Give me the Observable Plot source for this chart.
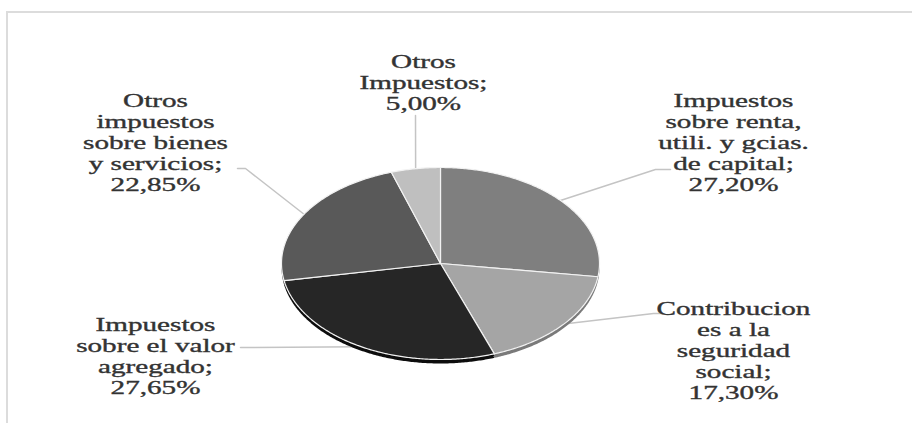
<!DOCTYPE html>
<html>
<head>
<meta charset="utf-8">
<script src="https://cdn.jsdelivr.net/npm/d3@7"></script>
<script src="https://cdn.jsdelivr.net/npm/@observablehq/plot@0.6"></script>
<style>
  html, body { margin: 0; padding: 0; background: #fff; }
  #wrap { position: relative; width: 912px; height: 423px; overflow: hidden; }
  #frame { position: absolute; left: 6px; top: 11px; width: 1000px; height: 500px;
           border-left: 2px solid #dcdcdc; border-top: 2px solid #dcdcdc; }
  #chart { position: absolute; left: 0; top: 0; }
</style>
</head>
<body>
<div id="wrap"><div id="frame"></div><div id="chart"></div></div>
<script>
// ---- data ----
const categories = [
  "Impuestos sobre renta, utili. y gcias. de capital",
  "Contribuciones a la seguridad social",
  "Impuestos sobre el valor agregado",
  "Otros impuestos sobre bienes y servicios",
  "Otros Impuestos"
];
const shares = [27.20, 17.30, 27.65, 22.85, 5.00];
const labelLines = [
  "Impuestos\nsobre renta,\nutili. y gcias.\nde capital;",
  "Contribucion\nes a la\nseguridad\nsocial;",
  "Impuestos\nsobre el valor\nagregado;",
  "Otros\nimpuestos\nsobre bienes\ny servicios;",
  "Otros\nImpuestos;"
];

// ---- styles / layout (not data) ----
const topColors  = ["#7f7f7f", "#a5a5a5", "#262626", "#595959", "#bfbfbf"];
const sideColors = ["#5e5e5e", "#7a7a7a", "#0d0d0d", "#3f3f3f", "#8f8f8f"];
// pixel layout of the ellipse
const CX = 440, CY = 263, RX = 159, RY = 96, DEPTH = 4;
// label block centres (px) and leader elbow/end points (px)
const labelPos = [[733, 142], [733, 350], [155, 355], [155, 142], [423, 82]];
const leaderEnds = [
  [[655, 169], [670, 169]],
  [[653, 313], [663, 313]],
  [[245, 347], [240, 347]],
  [[245, 168], [237, 168]],
  [[415, 115]]
];

const fmt = v => v.toFixed(2).replace(".", ",") + "%";
const pie = d3.pie().sort(null).value(d => d.value)(
  categories.map((c, i) => ({name: c, value: shares[i], i}))
);

// polygon points for slices (in unit-circle coordinates; scales make the ellipse)
const slicePts = [];
for (const a of pie) {
  const i = a.data.i;
  slicePts.push({k: i, x: 0, y: 0});
  const n = Math.max(4, Math.ceil((a.endAngle - a.startAngle) / 0.01));
  for (let j = 0; j <= n; j++) {
    const t = a.startAngle + (a.endAngle - a.startAngle) * j / n;
    slicePts.push({k: i, x: Math.sin(t), y: Math.cos(t)});
  }
  slicePts.push({k: i, x: 0, y: 0});
}

// px -> unit coords for annotations
const ux = px => (px - CX) / RX;
const uy = py => (CY - py) / RY;

const leaderPts = [];
pie.forEach(a => {
  const i = a.data.i, m = (a.startAngle + a.endAngle) / 2;
  leaderPts.push({k: i, x: Math.sin(m), y: Math.cos(m)});
  for (const [px, py] of leaderEnds[i]) leaderPts.push({k: i, x: ux(px), y: uy(py)});
});

const labels = categories.map((c, i) => ({
  x: ux(labelPos[i][0]), y: uy(labelPos[i][1]),
  text: labelLines[i] + "\n" + fmt(shares[i])
}));

const svg = Plot.plot({
  width: 912,
  height: 423,
  margin: 0,
  x: {domain: [-1, 1], range: [CX - RX, CX + RX], axis: null},
  y: {domain: [-1, 1], range: [CY + RY, CY - RY], axis: null},
  marks: [
    Plot.line(leaderPts, {x: "x", y: "y", z: "k", stroke: "#c4c4c4", strokeWidth: 1.5}),
    Plot.line(slicePts, {x: "x", y: "y", z: "k", fill: d => sideColors[d.k], stroke: "none", dy: DEPTH}),
    Plot.line(slicePts, {x: "x", y: "y", z: "k", fill: d => sideColors[d.k], stroke: "none", dy: DEPTH / 2}),
    Plot.line(slicePts, {x: "x", y: "y", z: "k", fill: d => topColors[d.k], stroke: "#f2f2f2", strokeWidth: 1.2}),
    Plot.text(labels, {x: "x", y: "y", text: "text", fontSize: 18, fontFamily: "Liberation Serif",
      lineHeight: 1.17, fill: "#333", lineAnchor: "middle", textAnchor: "middle"})
  ]
});
svg.style.background = "transparent";
d3.select(svg).selectAll('g[aria-label="text"] text').each(function() {
  const t = this.getAttribute("transform") || "";
  this.setAttribute("transform", t + " scale(1.62,1)");
  this.setAttribute("stroke", "#333");
  this.setAttribute("stroke-width", "0.35");
});
document.getElementById("chart").appendChild(svg);
</script>
</body>
</html>
